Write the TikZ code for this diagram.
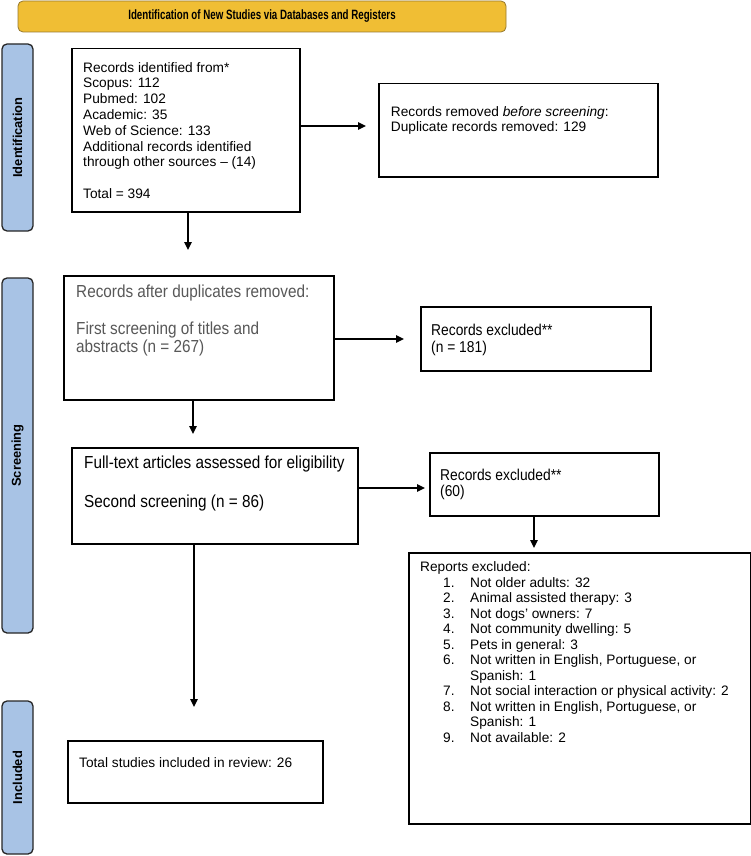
\documentclass[tikz,border=0pt]{standalone}
\usepackage{fontspec}
\setmainfont{Liberation Sans}
\newfontfamily\narrowfont[FakeStretch=0.88]{Liberation Sans}
\newfontfamily\condfont[FakeStretch=0.72]{Liberation Sans}
\usetikzlibrary{arrows.meta}
\definecolor{hdrfill}{RGB}{240,190,52}
\definecolor{hdrline}{RGB}{150,120,45}
\definecolor{sidefill}{RGB}{168,195,229}
\definecolor{graytext}{RGB}{88,88,88}
\begin{document}
\begin{tikzpicture}[x=1pt,y=-1pt,
  box/.style={draw=black, line width=1.5pt, fill=white, inner sep=0pt, anchor=north west},
  sidebar/.style={draw=black!85, line width=1.3pt, fill=sidefill, rounded corners=5pt, inner sep=0pt},
  sidelabel/.style={rotate=90, font=\bfseries\fontsize{12.9}{14}\selectfont},
  txt/.style={anchor=north west, inner sep=0pt, align=left},
  regtext/.style={font=\fontsize{13.7}{15.8}\selectfont},
  arr/.style={line width=1.4pt, -{Triangle[length=8pt,width=7.5pt]}}]
\useasboundingbox (0,0) rectangle (751,856);

% header
\node[draw=hdrline, line width=0.8pt, fill=hdrfill, rounded corners=5pt,
      minimum width=488pt, minimum height=31pt, inner sep=0pt,
      font=\condfont\bfseries\fontsize{13.5}{15}\selectfont] (hdr) at (262,16.5)
  {Identification of New Studies via Databases and Registers};

% side bars
\node[sidebar, minimum width=31pt, minimum height=187pt] (idbar) at (17.5,137.5) {};
\node[sidelabel] (idlab) at (idbar.center) {Identification};
\node[sidebar, minimum width=31pt, minimum height=355pt] (scbar) at (17.5,455.5) {};
\node[sidelabel] (sclab) at (scbar.center) {Screening};
\node[sidebar, minimum width=31pt, minimum height=153pt] (inbar) at (17.5,777.5) {};
\node[sidelabel] (inlab) at (inbar.center) {Included};

% boxes
\node[box, minimum width=228pt, minimum height=163pt] (rec) at (71,48) {};
\node[box, minimum width=279pt, minimum height=93pt] (rem) at (378,83) {};
\node[box, minimum width=270pt, minimum height=124pt] (dup) at (63,275) {};
\node[box, minimum width=230pt, minimum height=64pt] (exa) at (420,306) {};
\node[box, minimum width=286pt, minimum height=96pt] (ft) at (71,447) {};
\node[box, minimum width=229pt, minimum height=63pt] (exb) at (429,452) {};
\node[box, minimum width=342pt, minimum height=271pt] (rep) at (408,552) {};
\node[box, minimum width=255pt, minimum height=62pt] (tot) at (67,740) {};

% texts
\node[txt, regtext] (recT) at (83,61.5) {\rule{0pt}{10.3pt}Records identified from*\\
Scopus: 112\\ Pubmed: 102\\ Academic: 35\\ Web of Science: 133\\
Additional records identified\\ through other sources – (14)\\[15.8pt]
Total = 394};
\node[txt, font=\fontsize{13.7}{15}\selectfont] (remT) at (390.7,106.1)
  {\rule{0pt}{10.3pt}Records removed \textit{before screening}:\\ Duplicate records removed: 129};
\node[txt, text=graytext, font=\narrowfont\fontsize{17.4}{18.5}\selectfont] (dupT) at (76,284)
  {\rule{0pt}{13pt}Records after duplicates removed:\\[18.5pt]
   First screening of titles and\\ abstracts (n = 267)};
\node[txt, font=\narrowfont\fontsize{15.7}{17.3}\selectfont] (exaT) at (431,323.6)
  {\rule{0pt}{11.8pt}Records excluded**\\ (n = 181)};
\node[txt, font=\narrowfont\fontsize{17.4}{19.5}\selectfont] (ftT) at (84,455.2)
  {\rule{0pt}{13pt}Full-text articles assessed for eligibility\\[19.5pt]
   Second screening (n = 86)};
\node[txt, font=\narrowfont\fontsize{15.7}{16}\selectfont] (exbT) at (440,468.9)
  {\rule{0pt}{11.8pt}Records excluded**\\ (60)};
\node[txt, font=\fontsize{13.7}{15.5}\selectfont] (repT) at (420,561.3)
  {\rule{0pt}{10.3pt}Reports excluded:\\
   \hspace*{23pt}\makebox[27pt][l]{1.}Not older adults: 32\\
   \hspace*{23pt}\makebox[27pt][l]{2.}Animal assisted therapy: 3\\
   \hspace*{23pt}\makebox[27pt][l]{3.}Not dogs’ owners: 7\\
   \hspace*{23pt}\makebox[27pt][l]{4.}Not community dwelling: 5\\
   \hspace*{23pt}\makebox[27pt][l]{5.}Pets in general: 3\\
   \hspace*{23pt}\makebox[27pt][l]{6.}Not written in English, Portuguese, or\\
   \hspace*{50pt}Spanish: 1\\
   \hspace*{23pt}\makebox[27pt][l]{7.}Not social interaction or physical activity: 2\\
   \hspace*{23pt}\makebox[27pt][l]{8.}Not written in English, Portuguese, or\\
   \hspace*{50pt}Spanish: 1\\
   \hspace*{23pt}\makebox[27pt][l]{9.}Not available: 2};
\node[txt, regtext] (totT) at (79,756.8)
  {\rule{0pt}{10.3pt}Total studies included in review: 26};

% arrow tips
\coordinate (tipA) at (366,126);
\coordinate (tipB) at (188,250);
\coordinate (tipC) at (404,339);
\coordinate (tipD) at (193,434);
\coordinate (tipE) at (425,488);
\coordinate (tipF) at (534,548);
\coordinate (tipG) at (194,707);

% connectors
\draw[arr] (rec.east |- tipA) -- (tipA);
\draw[arr] (rec.south -| tipB) -- (tipB);
\draw[arr] (dup.east |- tipC) -- (tipC);
\draw[arr] (dup.south -| tipD) -- (tipD);
\draw[arr] (ft.east |- tipE) -- (tipE);
\draw[arr] (exb.south -| tipF) -- (tipF);
\draw[arr] (ft.south -| tipG) -- (tipG);
\end{tikzpicture}
\end{document}
